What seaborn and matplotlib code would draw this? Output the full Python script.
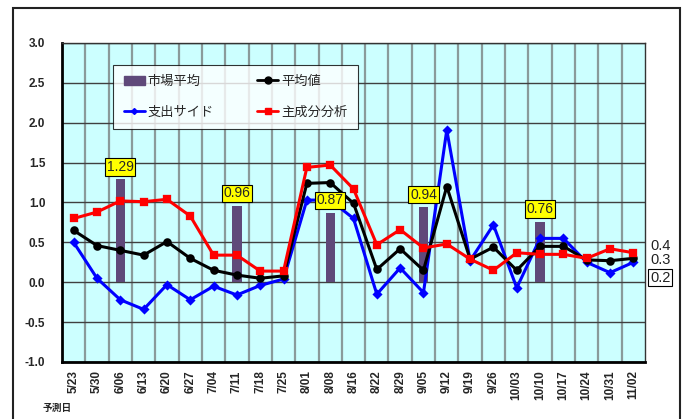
import pandas as pd
import numpy as np
import matplotlib.pyplot as plt
import seaborn as sns
from matplotlib.lines import Line2D
from matplotlib.patches import Patch, Rectangle

# 予測日
dates = ['5/23', '5/30', '6/06', '6/13', '6/20', '6/27', '7/04', '7/11', '7/18', '7/25',
         '8/01', '8/08', '8/16', '8/22', '8/29', '9/05', '9/12', '9/19', '9/26', '10/03',
         '10/10', '10/17', '10/24', '10/31', '11/02']

# 市場平均 (棒)
bar_dates = ['6/06', '7/11', '8/08', '9/05', '10/10']
bar_vals = [1.29, 0.96, 0.87, 0.94, 0.76]

# 平均値
avg_vals = [0.65, 0.46, 0.40, 0.34, 0.51, 0.30, 0.15, 0.09, 0.05, 0.08,
            1.24, 1.25, 0.99, 0.16, 0.42, 0.15, 1.20, 0.29, 0.44, 0.15,
            0.45, 0.45, 0.28, 0.27, 0.30]
# 支出サイド
exp_vals = [0.50, 0.05, -0.22, -0.34, -0.03, -0.22, -0.05, -0.16, -0.04, 0.04,
            1.03, 1.03, 0.80, -0.15, 0.18, -0.13, 1.91, 0.27, 0.72, -0.07,
            0.55, 0.55, 0.25, 0.12, 0.25]
# 主成分分析
pca_vals = [0.80, 0.88, 1.02, 1.01, 1.04, 0.83, 0.34, 0.34, 0.14, 0.14,
            1.44, 1.47, 1.17, 0.47, 0.66, 0.43, 0.48, 0.29, 0.15, 0.37,
            0.35, 0.35, 0.30, 0.42, 0.37]

sns.set_theme(style='white')
plt.rcParams['font.family'] = ['Liberation Sans', 'Noto Sans CJK JP']

df_bar = pd.DataFrame({'date': bar_dates, 'val': bar_vals})
df_lines = pd.DataFrame({'date': dates, 'avg': avg_vals, 'exp': exp_vals, 'pca': pca_vals})

fig = plt.figure(figsize=(6.85, 4.19), dpi=100)
ax = fig.add_axes([62/685, 1-362/419, 583/685, 319/419])
ax.set_facecolor('#CCFFFF')

bar_col = '#5f497a'
sns.barplot(data=df_bar, x='date', y='val', order=dates, color=bar_col,
            width=0.4, saturation=1, linewidth=0, edgecolor=bar_col, ax=ax, zorder=3)

# 系列: 支出サイド, 平均値, 主成分分析
series = [('exp', '#0000FF', 'D', 3.5),
          ('avg', '#000000', 'o', 4.5),
          ('pca', '#FF0000', 's', 4.5)]
for col, c, m, ms in series:
    sns.pointplot(data=df_lines, x='date', y=col, order=dates, color=c, markers=m,
                  markersize=ms, linewidth=2.2, errorbar=None, ax=ax, zorder=5)

# 棒のラベル
for d, v in zip(bar_dates, bar_vals):
    ax.annotate(f'{v:.2f}', xy=(dates.index(d), v), xytext=(0, 9), textcoords='offset points',
                ha='center', va='center', fontsize=10, zorder=8,
                bbox=dict(boxstyle='square,pad=0.12', fc='#FFFF00', ec='black', lw=0.8))

# 右端のラベル
last = len(dates) - 1
for vals, dy, boxed in [(pca_vals, 5, False), (avg_vals, -1.5, False), (exp_vals, -11, True)]:
    ax.annotate(f'{vals[-1]:.1f}', xy=(last, vals[-1]), xytext=(12, dy), textcoords='offset points',
                ha='left', va='center', fontsize=10.5, color='#222222', annotation_clip=False,
                bbox=dict(boxstyle='square,pad=0.12', fc='white', ec='black', lw=0.8) if boxed else None)

ax.set_ylim(-1.0, 3.0)
ax.set_xlim(-0.5, len(dates) - 0.5)
ax.set_yticks(np.arange(-1.0, 3.01, 0.5))
ax.set_yticklabels([f'{t:.1f}' for t in np.arange(-1.0, 3.01, 0.5)], fontweight='bold', fontsize=8.5)
ax.set_xticks(range(len(dates)))
ax.set_xticklabels(dates, rotation=90, fontweight='bold', fontsize=8.5)
ax.set_xticks(np.arange(0.5, len(dates) - 0.5, 1), minor=True)
ax.tick_params(axis='both', which='both', length=0)
ax.tick_params(axis='y', pad=12)
ax.tick_params(axis='x', pad=6)
ax.set_xlabel('')
ax.set_ylabel('')

ax.grid(False)
ax.grid(axis='y', which='major', color='#404040', lw=1.0, zorder=1)
ax.grid(axis='x', which='minor', color='#8a9a9a', lw=1.6, zorder=1)
ax.set_axisbelow(True)
for s in ['top', 'right']:
    ax.spines[s].set_color('#333333')
    ax.spines[s].set_linewidth(1.0)
for s in ['left', 'bottom']:
    ax.spines[s].set_color('black')
    ax.spines[s].set_linewidth(2.0)

handles = [Patch(color=bar_col, label='市場平均'),
           Line2D([], [], color='#0000FF', marker='D', ms=3, lw=2, label='支出サイド'),
           Line2D([], [], color='black', marker='o', ms=5, lw=2, label='平均値'),
           Line2D([], [], color='#FF0000', marker='s', ms=5, lw=2, label='主成分分析')]
leg = ax.legend(handles=handles, ncol=2, loc='lower left', mode='expand',
                bbox_to_anchor=(0.0875, 0.73, 0.42, 0.198), fontsize=9.5,
                frameon=True, fancybox=False, borderaxespad=0, labelspacing=1.4,
                handlelength=1.6, handletextpad=0.2, borderpad=0.8)
leg.get_frame().set_edgecolor('black')
leg.get_frame().set_linewidth(0.8)
leg.set_zorder(10)

fig.text(43/685, 1-408/419, '予測日', fontsize=7, fontweight='bold', va='center')

fig.add_artist(Rectangle((13/685, -0.02), 667/685, 1-8/419+0.02, transform=fig.transFigure,
                         fill=False, ec='#222222', lw=1.5))

fig.savefig('out.png', dpi=100, facecolor='white')
